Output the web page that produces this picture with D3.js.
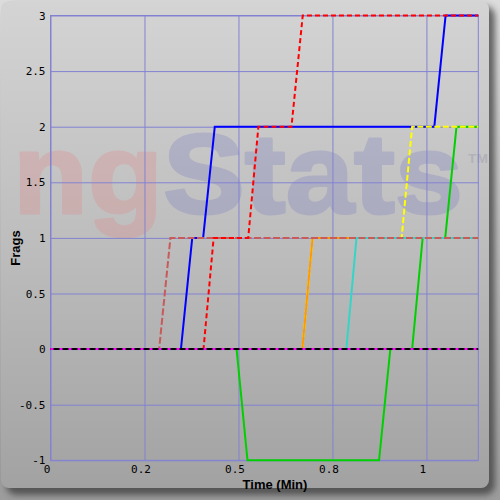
<!DOCTYPE html>
<html>
<head>
<meta charset="utf-8">
<script src="https://cdn.jsdelivr.net/npm/d3@7"></script>
<style>
  html, body { margin: 0; padding: 0; background: #b0b0b0; }
  svg { display: block; }
</style>
</head>
<body>
<svg id="chart" width="500" height="500"></svg>
<script>
// ---------------- DATA ----------------
const timeMax = 1.138;
const xTickValues = [0, 0.25, 0.5, 0.75, 1];
const xTickLabels = ["0", "0.2", "0.5", "0.8", "1"];
const yTickValues = [-1, -0.5, 0, 0.5, 1, 1.5, 2, 2.5, 3];
const yTickLabels = ["-1", "-0.5", "0", "0.5", "1", "1.5", "2", "2.5", "3"];

// each player: times (min) and frag counts
const blueTimes   = [0, 0.347, 0.377, 0.406, 0.437, 1.021, 1.051, 1.138];
const blueFrags   = [0, 0,     1,     1,     2,     2,     3,     3];
const greenTimes  = [0, 0.495, 0.524, 0.874, 0.904, 0.962, 0.990, 1.050, 1.080, 1.138];
const greenFrags  = [0, 0,     -1,    -1,    0,     0,     1,     1,     2,     2];
const yellowTimes = [0, 0.670, 0.697, 0.934, 0.962, 1.138];
const yellowFrags = [0, 0,     1,     1,     2,     2];
const orangeTimes = [0, 0.670, 0.697, 1.138];
const orangeFrags = [0, 0,     1,     1];
const cyanTimes   = [0, 0.787, 0.814, 1.138];
const cyanFrags   = [0, 0,     1,     1];
const indianTimes = [0, 0.289, 0.319, 1.138];
const indianFrags = [0, 0,     1,     1];
const redTimes    = [0, 0.407, 0.434, 0.526, 0.553, 0.641, 0.671, 1.138];
const redFrags    = [0, 0,     1,     1,     2,     2,     3,     3];
const blackTimes  = [0, 1.138];
const blackFrags  = [0, 0];
const magentaTimes = [0, 1.138];
const magentaFrags = [0, 0];

// draw order (bottom to top)
const series = [
  { t: blueTimes,    v: blueFrags,    color: "#0000ff", dash: null },
  { t: greenTimes,   v: greenFrags,   color: "#00d000", dash: null },
  { t: yellowTimes,  v: yellowFrags,  color: "#ffff00", dash: "6,2.5" },
  { t: orangeTimes,  v: orangeFrags,  color: "#ff9900", dash: null },
  { t: cyanTimes,    v: cyanFrags,    color: "#33d6c6", dash: null },
  { t: indianTimes,  v: indianFrags,  color: "#c85a5a", dash: "7,2.5" },
  { t: redTimes,     v: redFrags,     color: "#ff0000", dash: "5,3" },
  { t: blackTimes,   v: blackFrags,   color: "#000000", dash: null },
  { t: magentaTimes, v: magentaFrags, color: "#ff00ff", dash: "3,6" }
];

// ---------------- LAYOUT ----------------
const svg = d3.select("#chart");
const L = 50.5, R = 478.3, T = 15.5, B = 460.3;
const x = d3.scaleLinear().domain([0, timeMax]).range([L, R]);
const y = d3.scaleLinear().domain([-1, 3]).range([B, T]);

const defs = svg.append("defs");
const g1 = defs.append("linearGradient").attr("id", "outerGrad").attr("x1", 0).attr("y1", 0).attr("x2", 0).attr("y2", 1);
g1.append("stop").attr("offset", "0%").attr("stop-color", "#dcdcdc");
g1.append("stop").attr("offset", "100%").attr("stop-color", "#9c9c9c");
const g2 = defs.append("linearGradient").attr("id", "panelGrad").attr("x1", 0).attr("y1", 0).attr("x2", 0).attr("y2", 1);
g2.append("stop").attr("offset", "0%").attr("stop-color", "#d4d4d4");
g2.append("stop").attr("offset", "50%").attr("stop-color", "#bdbdbd");
g2.append("stop").attr("offset", "100%").attr("stop-color", "#a2a2a2");
const blur = defs.append("filter").attr("id", "blur").attr("x", "-10%").attr("y", "-10%").attr("width", "120%").attr("height", "120%");
blur.append("feGaussianBlur").attr("stdDeviation", 3);

svg.append("rect").attr("width", 500).attr("height", 500).attr("fill", "url(#outerGrad)");
svg.append("rect").attr("x", 6).attr("y", 6).attr("width", 489).attr("height", 489).attr("rx", 10)
  .attr("fill", "#3c3c3c").attr("opacity", 0.75).attr("filter", "url(#blur)");
svg.append("rect").attr("x", 1).attr("y", 1).attr("width", 488).attr("height", 487).attr("rx", 8)
  .attr("fill", "url(#panelGrad)");

// watermark
const wm = svg.append("text")
  .attr("x", 13).attr("y", 213)
  .attr("font-family", "Liberation Sans, Arial, sans-serif")
  .attr("font-weight", "bold").attr("font-size", 113)
  .attr("textLength", 450).attr("lengthAdjust", "spacingAndGlyphs")
  .attr("opacity", 0.28).attr("stroke-width", 3).attr("stroke-linejoin", "round");
wm.append("tspan").text("ng").attr("fill", "rgb(225,132,132)").attr("stroke", "rgb(225,132,132)");
wm.append("tspan").text("Stats").attr("fill", "rgb(121,121,192)").attr("stroke", "rgb(121,121,192)");
svg.append("text").attr("x", 468).attr("y", 163).text("TM")
  .attr("font-family", "Liberation Sans, Arial, sans-serif").attr("font-weight", "bold")
  .attr("font-size", 13).attr("textLength", 20).attr("lengthAdjust", "spacingAndGlyphs")
  .attr("fill", "#b2b2ba");

// ---------------- AXES / GRID ----------------
const gridColor = "#8282d2";
const xAxis = d3.axisBottom(x).tickValues(xTickValues)
  .tickFormat((d, i) => xTickLabels[i]).tickSize(-(B - T)).tickPadding(5);
const gx = svg.append("g").attr("transform", `translate(0,${B})`).call(xAxis);
gx.select(".domain").remove();
gx.selectAll("line").attr("stroke", gridColor).attr("stroke-width", 1);
gx.selectAll("text").attr("fill", "#000").attr("font-family", "DejaVu Sans Mono, monospace")
  .attr("font-size", 11).attr("dx", -4);

const yAxis = d3.axisLeft(y).tickValues(yTickValues)
  .tickFormat((d, i) => yTickLabels[i]).tickSize(-(R - L)).tickPadding(5);
const gy = svg.append("g").attr("transform", `translate(${L},0)`).call(yAxis);
gy.select(".domain").remove();
gy.selectAll("line").attr("stroke", gridColor).attr("stroke-width", 1);
gy.selectAll("text").attr("fill", "#000").attr("font-family", "DejaVu Sans Mono, monospace")
  .attr("font-size", 11);

svg.append("rect").attr("x", L).attr("y", T).attr("width", R - L).attr("height", B - T)
  .attr("fill", "none").attr("stroke", gridColor).attr("stroke-width", 1);

// axis titles
svg.append("text").text("Time (Min)").attr("x", 275).attr("y", 489)
  .attr("text-anchor", "middle").attr("font-family", "Liberation Sans, Arial, sans-serif")
  .attr("font-weight", "bold").attr("font-size", 13).attr("fill", "#000");
svg.append("text").text("Frags").attr("transform", "translate(20,248) rotate(-90)")
  .attr("text-anchor", "middle").attr("font-family", "Liberation Sans, Arial, sans-serif")
  .attr("font-weight", "bold").attr("font-size", 13).attr("fill", "#000");

// ---------------- LINES ----------------
const line = d3.line().x(d => x(d[0])).y(d => y(d[1]));
const lg = svg.append("g");
series.forEach(s => {
  const pts = s.t.map((t, i) => [t, s.v[i]]);
  const p = lg.append("path").datum(pts).attr("d", line)
    .attr("fill", "none").attr("stroke", s.color).attr("stroke-width", 2)
    .attr("stroke-linejoin", "miter");
  if (s.dash) p.attr("stroke-dasharray", s.dash);
});
</script>
</body>
</html>
